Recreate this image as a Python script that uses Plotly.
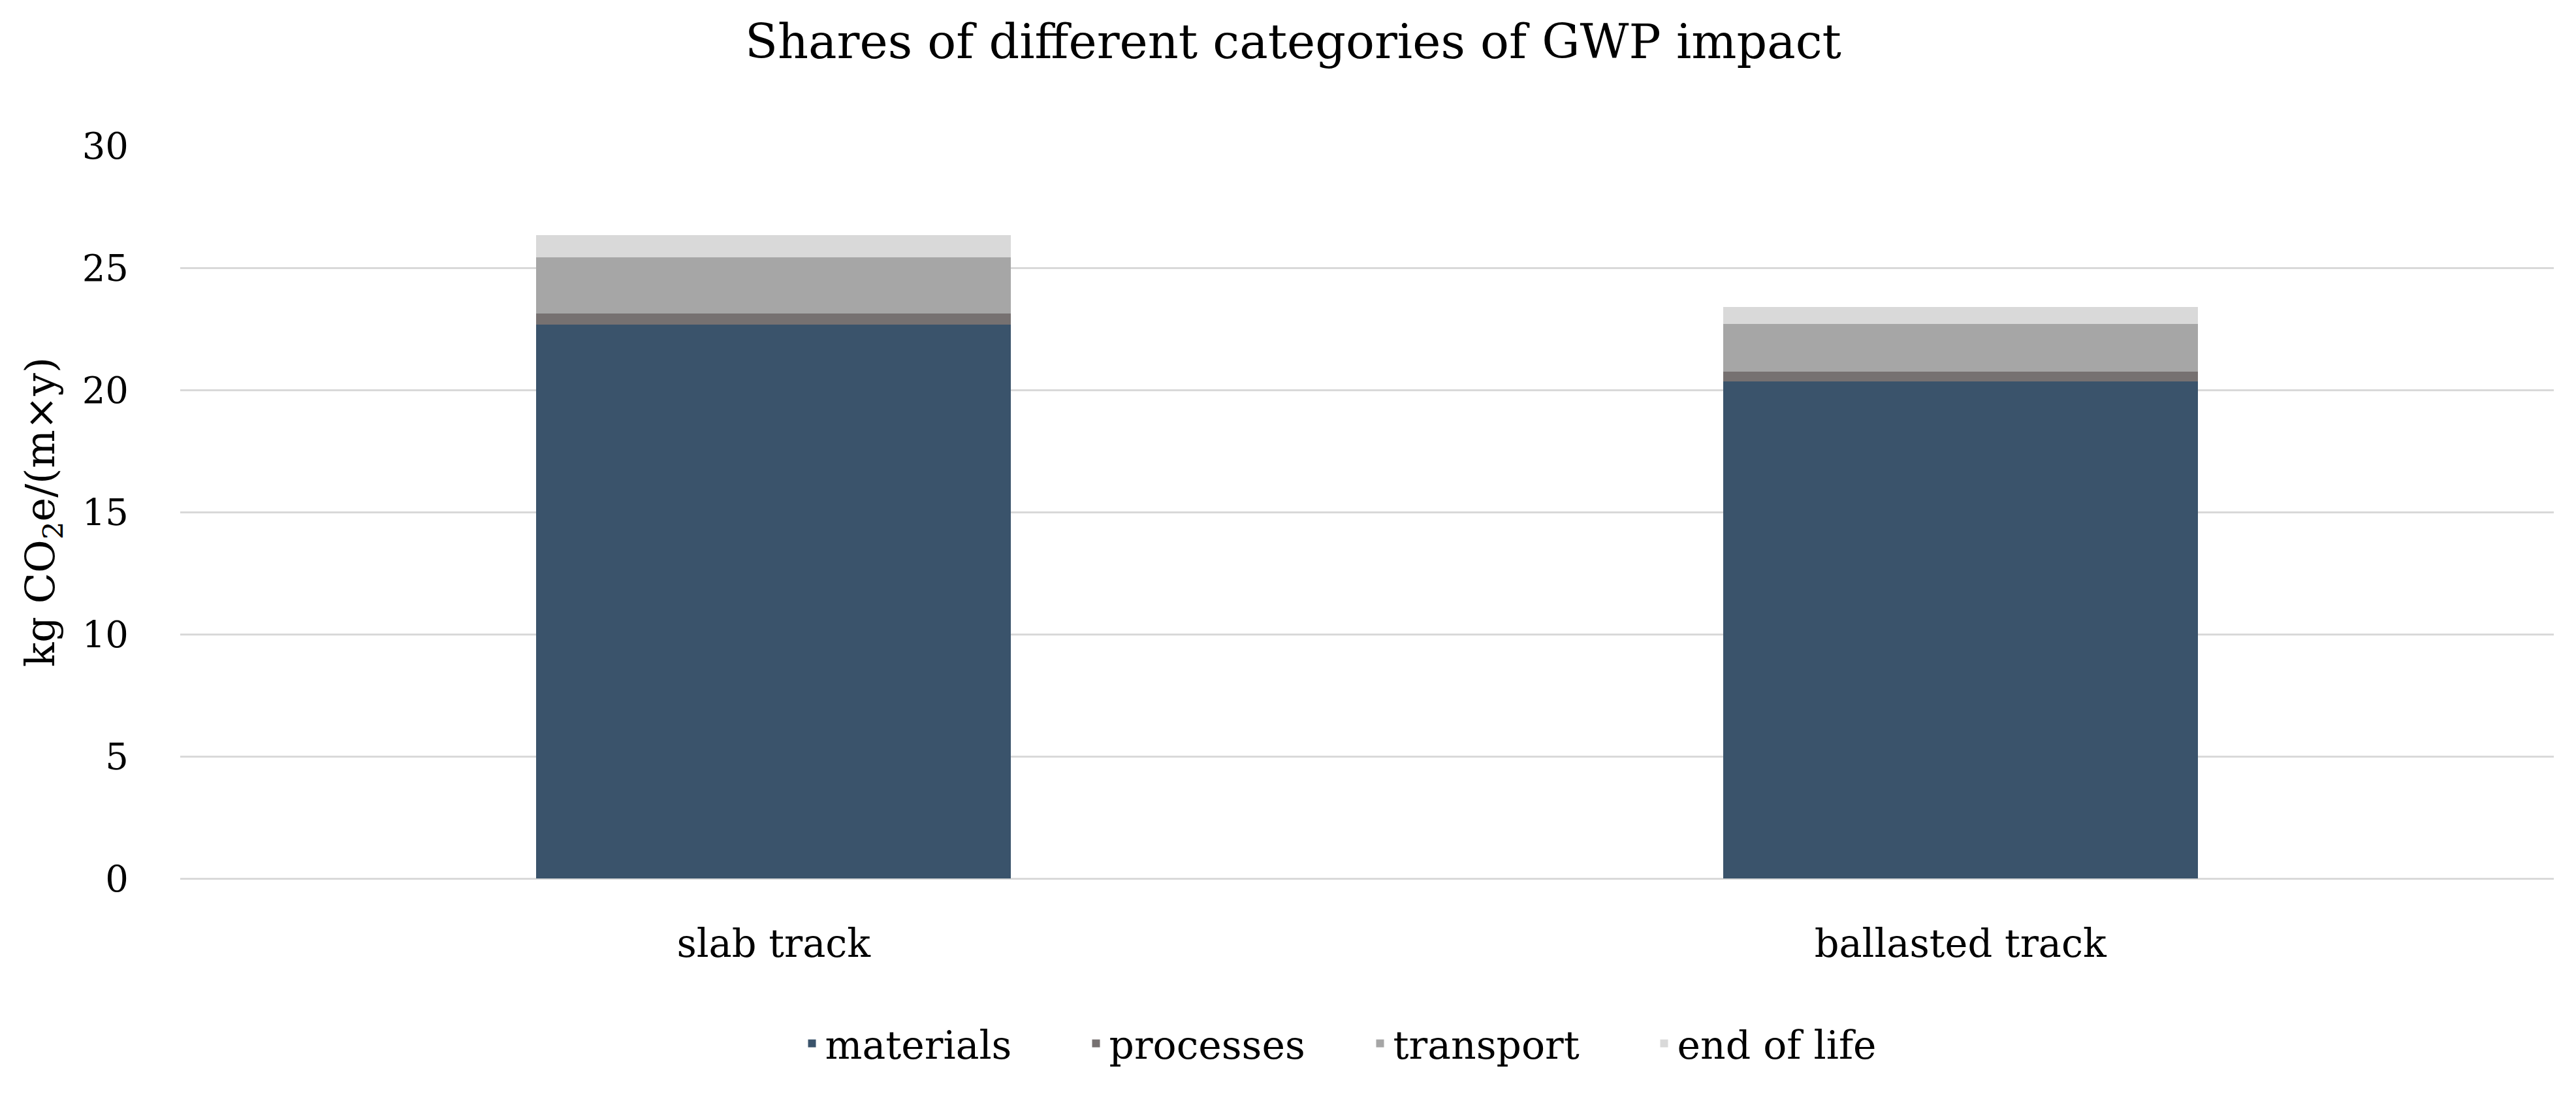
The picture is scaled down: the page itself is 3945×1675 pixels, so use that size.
import plotly.graph_objects as go

categories = ["slab track", "ballasted track"]
series_names = ["materials", "processes", "transport", "end of life"]
materials = [22.67, 20.35]
processes = [0.46, 0.40]
transport = [2.30, 1.95]
end_of_life = [0.91, 0.70]
y_ticks = [0, 5, 10, 15, 20, 25, 30]

colors = ["#3a536b", "#767171", "#a6a6a6", "#d9d9d9"]
values = [materials, processes, transport, end_of_life]

FONT = "Palatino Linotype, Book Antiqua, Palatino, DejaVu Serif, serif"

fig = go.Figure()
for name, vals, col in zip(series_names, values, colors):
    fig.add_trace(go.Bar(x=categories, y=vals, name=name, marker=dict(color=col, line=dict(width=0))))

fig.update_layout(
    barmode="stack",
    bargap=0.6,
    width=3945,
    height=1675,
    paper_bgcolor="white",
    plot_bgcolor="white",
    margin=dict(l=268, r=42, t=215, b=338),
    font=dict(family=FONT, size=56, color="#000000"),
    title=dict(text="Shares of different categories of GWP impact", x=0.5, xanchor="center",
               y=1 - 55 / 1675, yanchor="middle", font=dict(size=73, family=FONT)),
    legend=dict(orientation="h", x=0.5, xanchor="center", y=-0.225, yanchor="middle",
                font=dict(size=60), itemwidth=30, traceorder="normal", entrywidth=390),
    showlegend=True,
)
fig.update_yaxes(range=[0, 30], tickvals=y_ticks, showgrid=True, gridcolor="#d9d9d9", gridwidth=3,
                 zeroline=True, zerolinecolor="#d9d9d9", zerolinewidth=3, showline=False,
                 ticklabelstandoff=78, tickfont=dict(size=56),
                 title=dict(text="kg CO<sub>2</sub>e/(m×y)", standoff=22, font=dict(size=62)))
fig.update_xaxes(showgrid=False, showline=False, ticklabelstandoff=60, tickfont=dict(size=59))

fig.write_html("out.html")
